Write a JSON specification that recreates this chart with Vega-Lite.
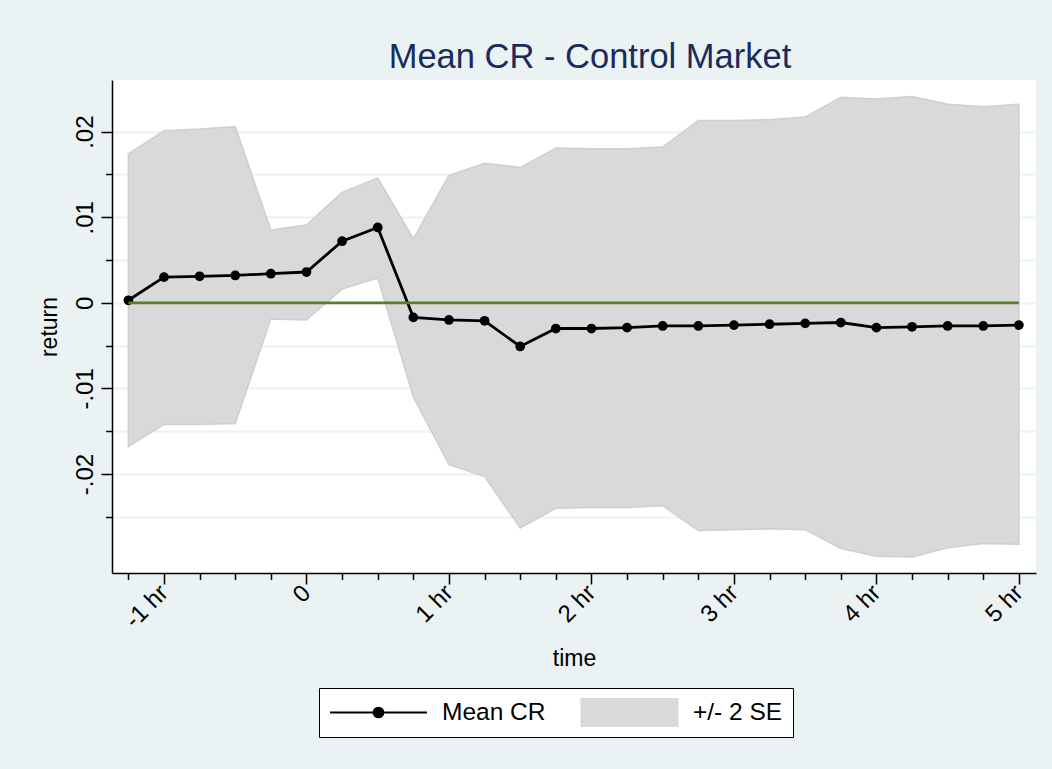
{
  "$schema": "https://vega.github.io/schema/vega-lite/v6.json",
  "width": 924,
  "height": 493,
  "autosize": {"type": "none"},
  "padding": {"left": 112, "top": 80, "right": 16, "bottom": 196},
  "background": "#eaf2f3",
  "config": {
    "view": {"fill": "white", "stroke": null},
    "font": "Liberation Sans",
    "axis": {
      "domainColor": "black",
      "domainWidth": 1.5,
      "tickColor": "black",
      "tickWidth": 1.5,
      "labelColor": "black",
      "titleColor": "black",
      "labelFontSize": 24,
      "titleFontSize": 23,
      "titleFontWeight": "normal",
      "labelFont": "Liberation Sans",
      "titleFont": "Liberation Sans"
    },
    "legend": {
      "title": null,
      "orient": "none",
      "legendX": 207,
      "legendY": 608,
      "direction": "horizontal",
      "strokeColor": "black",
      "fillColor": "white",
      "padding": 10,
      "cornerRadius": 0,
      "labelFontSize": 24.5,
      "labelFont": "Liberation Sans",
      "labelColor": "black",
      "labelOffset": 14,
      "columnPadding": 34,
      "symbolSize": 9409,
      "symbolStrokeWidth": 2,
      "clipHeight": 29
    }
  },
  "title": {
    "text": "Mean CR - Control Market",
    "fontSize": 34.5,
    "fontWeight": "normal",
    "font": "Liberation Sans",
    "color": "#1a2b5c",
    "anchor": "middle",
    "offset": 5,
    "dx": 16
  },
  "data": {
    "values": [
      {"t": -1.25, "mean": 0.0003, "lo": -0.0168, "hi": 0.0174},
      {"t": -1.0, "mean": 0.0030, "lo": -0.0142, "hi": 0.0201},
      {"t": -0.75, "mean": 0.0031, "lo": -0.0142, "hi": 0.0203},
      {"t": -0.5, "mean": 0.0032, "lo": -0.0141, "hi": 0.0206},
      {"t": -0.25, "mean": 0.0034, "lo": -0.0019, "hi": 0.0085},
      {"t": 0, "mean": 0.0036, "lo": -0.0020, "hi": 0.0091},
      {"t": 0.25, "mean": 0.0072, "lo": 0.0016, "hi": 0.0129},
      {"t": 0.5, "mean": 0.0088, "lo": 0.0029, "hi": 0.0146},
      {"t": 0.75, "mean": -0.0017, "lo": -0.0110, "hi": 0.0075},
      {"t": 1.0, "mean": -0.0020, "lo": -0.0189, "hi": 0.0149},
      {"t": 1.25, "mean": -0.0021, "lo": -0.0203, "hi": 0.0163},
      {"t": 1.5, "mean": -0.0051, "lo": -0.0263, "hi": 0.0158},
      {"t": 1.75, "mean": -0.0030, "lo": -0.0240, "hi": 0.0181},
      {"t": 2.0, "mean": -0.0030, "lo": -0.0239, "hi": 0.0180},
      {"t": 2.25, "mean": -0.0029, "lo": -0.0239, "hi": 0.0180},
      {"t": 2.5, "mean": -0.0027, "lo": -0.0237, "hi": 0.0182},
      {"t": 2.75, "mean": -0.0027, "lo": -0.0266, "hi": 0.0213},
      {"t": 3.0, "mean": -0.0026, "lo": -0.0265, "hi": 0.0213},
      {"t": 3.25, "mean": -0.0025, "lo": -0.0264, "hi": 0.0214},
      {"t": 3.5, "mean": -0.0024, "lo": -0.0265, "hi": 0.0217},
      {"t": 3.75, "mean": -0.0023, "lo": -0.0287, "hi": 0.0240},
      {"t": 4.0, "mean": -0.0029, "lo": -0.0296, "hi": 0.0238},
      {"t": 4.25, "mean": -0.0028, "lo": -0.0297, "hi": 0.0241},
      {"t": 4.5, "mean": -0.0027, "lo": -0.0286, "hi": 0.0232},
      {"t": 4.75, "mean": -0.0027, "lo": -0.0281, "hi": 0.0229},
      {"t": 5.0, "mean": -0.0026, "lo": -0.0282, "hi": 0.0232}
    ]
  },
  "encoding": {
    "x": {
      "field": "t",
      "type": "quantitative",
      "scale": {"domain": [-1.365, 5.12], "nice": false, "zero": false},
      "axis": {
        "title": "time",
        "values": [-1.25, -1, -0.75, -0.5, -0.25, 0, 0.25, 0.5, 0.75, 1, 1.25, 1.5, 1.75, 2, 2.25, 2.5, 2.75, 3, 3.25, 3.5, 3.75, 4, 4.25, 4.5, 4.75, 5],
        "labelExpr": "datum.value == 0 ? '0' : (datum.value % 1 == 0 ? datum.value + ' hr' : '')",
        "labelAngle": -45,
        "labelAlign": "right",
        "labelBaseline": "middle",
        "labelOverlap": false,
        "labelFlush": false,
        "labelBound": false,
        "labelPadding": 5,
        "grid": false,
        "tickSize": {"condition": {"test": "datum.value % 1 == 0", "value": 11}, "value": 6.5},
        "titlePadding": 15
      }
    }
  },
  "layer": [
    {
      "mark": {"type": "area", "stroke": "#cfcfcf", "strokeWidth": 1.5, "opacity": 1},
      "encoding": {
        "y": {
          "field": "hi",
          "type": "quantitative",
          "scale": {"domain": [-0.03156, 0.02603], "nice": false, "zero": false},
          "axis": {
            "title": "return",
            "values": [-0.025, -0.02, -0.015, -0.01, -0.005, 0, 0.005, 0.01, 0.015, 0.02],
            "labelExpr": "abs(datum.value*100 - round(datum.value*100)) > 0.000001 ? '' : (datum.value == 0 ? '0' : (datum.value < 0 ? '-' : '') + '.' + format(round(abs(datum.value)*100), '02d'))",
            "labelAngle": -90,
            "labelAlign": "center",
            "labelBaseline": "bottom",
            "labelOverlap": false,
            "labelFlush": false,
            "labelPadding": 4,
            "grid": true,
            "gridColor": "#eaf2f3",
            "gridWidth": 2,
            "tickSize": {"condition": {"test": "abs(datum.value*100 - round(datum.value*100)) < 0.000001", "value": 11}, "value": 6.5},
            "titlePadding": 12
          }
        },
        "y2": {"field": "lo"},
        "color": {
          "datum": "+/- 2 SE",
          "scale": {"domain": ["Mean CR", "+/- 2 SE"], "range": ["black", "#d9d9d9"]},
          "legend": {
            "encode": {
              "symbols": {
                "update": {
                  "shape": {"signal": "datum.value == 'Mean CR' ? 'M-1,0L1,0M-0.1,0A0.1,0.1,0,1,0,0.1,0A0.1,0.1,0,1,0,-0.1,0Z' : 'M-0.99,-0.29L0.99,-0.29L0.99,0.29L-0.99,0.29Z'"},
                  "stroke": {"signal": "datum.value == 'Mean CR' ? 'black' : '#cfcfcf'"}
                }
              }
            }
          }
        }
      }
    },
    {
      "mark": {"type": "line", "strokeWidth": 2.8},
      "encoding": {
        "y": {"field": "mean", "type": "quantitative", "scale": {"domain": [-0.03156, 0.02603], "nice": false, "zero": false}},
        "color": {
          "datum": "Mean CR",
          "legend": {
            "encode": {
              "symbols": {
                "update": {
                  "shape": {"signal": "datum.value == 'Mean CR' ? 'M-1,0L1,0M-0.1,0A0.1,0.1,0,1,0,0.1,0A0.1,0.1,0,1,0,-0.1,0Z' : 'M-0.99,-0.29L0.99,-0.29L0.99,0.29L-0.99,0.29Z'"},
                  "stroke": {"signal": "datum.value == 'Mean CR' ? 'black' : '#cfcfcf'"}
                }
              }
            }
          }
        }
      }
    },
    {
      "mark": {"type": "point", "filled": true, "size": 95, "opacity": 1},
      "encoding": {
        "y": {"field": "mean", "type": "quantitative", "scale": {"domain": [-0.03156, 0.02603], "nice": false, "zero": false}},
        "color": {
          "datum": "Mean CR",
          "legend": {
            "encode": {
              "symbols": {
                "update": {
                  "shape": {"signal": "datum.value == 'Mean CR' ? 'M-1,0L1,0M-0.1,0A0.1,0.1,0,1,0,0.1,0A0.1,0.1,0,1,0,-0.1,0Z' : 'M-0.99,-0.29L0.99,-0.29L0.99,0.29L-0.99,0.29Z'"},
                  "stroke": {"signal": "datum.value == 'Mean CR' ? 'black' : '#cfcfcf'"}
                }
              }
            }
          }
        }
      }
    },
    {
      "mark": {"type": "line", "color": "#5a7d2a", "strokeWidth": 2.8},
      "encoding": {
        "y": {"datum": 0, "type": "quantitative", "scale": {"domain": [-0.03156, 0.02603], "nice": false, "zero": false}}
      }
    }
  ]
}
